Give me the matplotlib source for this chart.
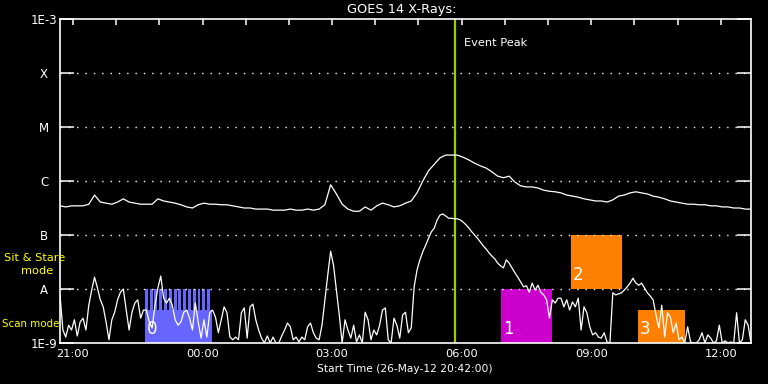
import matplotlib
matplotlib.use("Agg")
import matplotlib.pyplot as plt
import matplotlib.dates as mdates
from matplotlib.patches import Rectangle
from matplotlib.ticker import NullLocator
import numpy as np
import pandas as pd

# ---------------- data ----------------
start_time = "2012-05-26 20:42"
span_hours = 16

# lower channel (0.5-4 A), log10 flux, one value every 4 minutes from start
low_step = "4min"
low_log = [
    -8.11, -8.76, -8.89, -8.67, -8.76, -8.57, -8.87, -8.61, -8.54, -8.76,
    -8.30, -8.02, -7.78, -7.98, -8.20, -8.33, -8.61, -8.94, -8.57, -8.43,
    -8.20, -8.06, -8.00, -8.39, -8.76, -8.43, -8.26, -8.20, -8.54, -8.39,
    -8.39, -8.61, -8.72, -8.30, -7.98, -7.76, -8.17, -8.26, -8.17, -8.30,
    -8.57, -8.67, -8.61, -8.43, -8.39, -8.54, -8.76, -8.26, -8.61, -8.91,
    -8.57, -8.89, -8.44, -8.39, -8.52, -8.81, -8.57, -8.33, -8.44, -8.89,
    -8.94, -8.89, -8.94, -8.44, -8.35, -8.91, -8.33, -8.28, -8.57, -8.76,
    -8.91, -9.00, -8.87, -9.00, -8.89, -9.00, -9.00, -8.87, -8.76, -8.63,
    -8.70, -8.94, -8.89, -8.98, -8.89, -8.94, -8.70, -8.63, -8.81, -8.91,
    -8.94, -8.67, -8.20, -7.74, -7.30, -7.56, -8.02, -8.48, -9.00, -8.57,
    -8.76, -8.91, -8.67, -8.98, -8.85, -9.00, -8.43, -8.57, -8.94, -8.76,
    -8.85, -8.67, -8.39, -8.35, -8.94, -9.00, -8.54, -8.67, -8.91, -8.48,
    -8.43, -8.81, -8.72, -7.96, -7.65, -7.46, -7.31, -7.19, -7.06, -6.94,
    -6.87, -6.72, -6.63, -6.61, -6.65, -6.69, -6.69, -6.70, -6.70, -6.72,
    -6.76, -6.81, -6.87, -6.94, -7.00, -7.06, -7.13, -7.20, -7.26, -7.33,
    -7.39, -7.44, -7.52, -7.57, -7.61, -7.46, -7.52, -7.61, -7.70, -7.78,
    -7.87, -7.96, -7.94, -8.06, -7.89, -8.02, -7.93, -8.06, -8.11, -8.20,
    -8.54, -8.20, -8.26, -8.17, -8.17, -8.33, -8.20, -8.39, -8.24, -8.33,
    -8.17, -8.76, -8.33, -8.44, -8.70, -8.85, -8.81, -8.89, -8.91, -8.81,
    -8.98, -9.00, -8.07, -8.11, -8.09, -8.07, -8.02, -7.96, -7.89, -7.80,
    -7.89, -7.93, -7.89, -7.98, -8.07, -8.13, -8.20, -8.48, -8.72, -8.30,
    -8.89, -8.44, -8.52, -8.81, -8.63, -8.94, -8.89, -9.00, -8.70, -8.98,
    -9.00, -9.00, -8.94, -8.81, -9.00, -8.85, -8.91, -9.00, -8.96, -8.67,
    -9.00, -8.96, -9.00, -8.98, -9.00, -8.44, -9.00, -8.94, -8.57, -8.67,
    -9.00,
]

# upper channel (1-8 A), log10 flux, one value every 8 minutes from start
up_step = "8min"
up_log = [
    -6.46, -6.48, -6.46, -6.46, -6.46, -6.43, -6.26, -6.39, -6.41, -6.43,
    -6.39, -6.33, -6.39, -6.41, -6.43, -6.43, -6.43, -6.33, -6.37, -6.39,
    -6.41, -6.44, -6.48, -6.50, -6.44, -6.41, -6.43, -6.43, -6.44, -6.44,
    -6.46, -6.48, -6.50, -6.50, -6.52, -6.52, -6.52, -6.54, -6.54, -6.54,
    -6.52, -6.54, -6.54, -6.52, -6.54, -6.52, -6.44, -6.07, -6.24, -6.43,
    -6.52, -6.56, -6.56, -6.48, -6.54, -6.46, -6.41, -6.44, -6.48, -6.46,
    -6.41, -6.37, -6.22, -6.00, -5.81, -5.69, -5.57, -5.52, -5.52, -5.52,
    -5.56, -5.61, -5.67, -5.72, -5.76, -5.83, -5.91, -5.94, -5.91, -6.02,
    -6.09, -6.11, -6.11, -6.13, -6.17, -6.19, -6.20, -6.22, -6.26, -6.28,
    -6.30, -6.33, -6.35, -6.37, -6.37, -6.39, -6.35, -6.28, -6.26, -6.22,
    -6.20, -6.22, -6.24, -6.28, -6.30, -6.33, -6.37, -6.39, -6.41, -6.43,
    -6.43, -6.44, -6.44, -6.46, -6.46, -6.48, -6.48, -6.50, -6.50, -6.52,
    -6.52,
]

ytick_values = [1e-9, 1e-8, 1e-7, 1e-6, 1e-5, 1e-4, 1e-3]
ytick_labels = ["1E-9", "A", "B", "C", "M", "X", "1E-3"]
grid_levels = [1e-8, 1e-7, 1e-6, 1e-5, 1e-4]

event_peak = "2012-05-27 05:51"

# observation boxes: label, start, end, low flux, high flux, colour
box_labels = ["0", "1", "2", "3"]
box_starts = ["2012-05-26 22:40", "2012-05-27 06:55", "2012-05-27 08:32", "2012-05-27 10:05"]
box_ends = ["2012-05-27 00:13", "2012-05-27 08:05", "2012-05-27 09:43", "2012-05-27 11:11"]
box_lows = [1e-9, 1e-9, 1e-8, 1e-9]
box_highs = [1e-8, 1e-8, 1e-7, 10 ** -8.39]
box_colors = ["#6666FF", "#CC00CC", "#FF8000", "#FF8000"]
blue_stripe_count = 14
blue_stripe_bottom = 10 ** -8.39

# ---------------- plot ----------------
plt.rcParams["font.family"] = ["DejaVu Sans"]
fig = plt.figure(figsize=(7.68, 3.84), dpi=100, facecolor="black")
ax = fig.add_axes([60 / 768, 1 - 343 / 384, 691 / 768, 324 / 384])
ax.set_facecolor("black")

t0 = pd.Timestamp(start_time)
t1 = t0 + pd.Timedelta(hours=span_hours)
low_t = pd.date_range(t0, periods=len(low_log), freq=low_step)
up_t = pd.date_range(t0, periods=len(up_log), freq=up_step)

ax.set_yscale("log")
ax.set_ylim(1e-9, 1e-3)
ax.set_xlim(t0, t1)

# boxes
for lab, s, e, lo, hi, c in zip(box_labels, box_starts, box_ends, box_lows, box_highs, box_colors):
    s_num = mdates.date2num(pd.Timestamp(s))
    e_num = mdates.date2num(pd.Timestamp(e))
    if lab == "0":
        ax.add_patch(Rectangle((s_num, lo), e_num - s_num, blue_stripe_bottom - lo,
                               facecolor=c, edgecolor="none", zorder=1))
        w = (e_num - s_num) / blue_stripe_count
        for k in range(blue_stripe_count):
            ax.add_patch(Rectangle((s_num + k * w, blue_stripe_bottom), w * 0.62,
                                   hi - blue_stripe_bottom, facecolor=c,
                                   edgecolor="none", zorder=1))
    else:
        ax.add_patch(Rectangle((s_num, lo), e_num - s_num, hi - lo,
                               facecolor=c, edgecolor="none", zorder=1))
    ax.text(s_num + (e_num - s_num) * 0.03, lo * 10 ** 0.1, lab, color="white",
            fontsize=12, ha="left", va="bottom", zorder=4)

# grid
for g in grid_levels:
    ax.axhline(g, color="white", lw=1.0, ls=(0, (1, 5)), zorder=2)

# event peak
ep = pd.Timestamp(event_peak)
ax.axvline(ep, color="#9ACD00", lw=1.6, zorder=3)
ax.text(mdates.date2num(ep) + 0.0085, 10 ** -3.45, "Event Peak", color="white",
        fontsize=8.2, ha="left", va="center", zorder=4)

# curves
ax.plot(low_t, 10 ** np.array(low_log), color="white", lw=0.9, zorder=5)
ax.plot(up_t, 10 ** np.array(up_log), color="white", lw=0.9, zorder=5)

# y axis
ax.set_yticks(ytick_values)
ax.set_yticklabels(ytick_labels)
ax.yaxis.set_minor_locator(NullLocator())
ax.tick_params(axis="y", which="both", left=True, right=True, direction="in",
               length=10, width=1.1, colors="white", labelsize=8.5, pad=11.5)
for lbl in ax.get_yticklabels():
    lbl.set_horizontalalignment("center")

# x axis
ax.xaxis.set_major_locator(mdates.HourLocator(byhour=[0, 3, 6, 9, 12, 15, 18, 21]))
ax.xaxis.set_minor_locator(mdates.HourLocator())
ax.xaxis.set_major_formatter(mdates.DateFormatter("%H:%M"))
ax.tick_params(axis="x", which="both", bottom=False, top=True, direction="in",
               length=4.5, width=1.1, colors="white", labelsize=8.2,
               labelbottom=True, labeltop=False, pad=4)

for sp in ax.spines.values():
    sp.set_color("white")
    sp.set_linewidth(1.2)
    sp.set_zorder(6)

fig.text(402 / 768, 1 - 10 / 384, "GOES 14 X-Rays:", color="white", fontsize=9.3,
         ha="center", va="center")
fig.text(405 / 768, 1 - 369 / 384, "Start Time (26-May-12 20:42:00)", color="white",
         fontsize=7.7, ha="center", va="center")
fig.text(35 / 768, 1 - 258 / 384, "Sit & Stare", color="#FFFF00", fontsize=8.2,
         ha="center", va="center")
fig.text(37 / 768, 1 - 271.5 / 384, "mode", color="#FFFF00", fontsize=8.2,
         ha="center", va="center")
fig.text(2 / 768, 1 - 324 / 384, "Scan mode", color="#FFFF00", fontsize=7.4,
         ha="left", va="center")

fig.savefig("out.png", dpi=100, facecolor="black")
